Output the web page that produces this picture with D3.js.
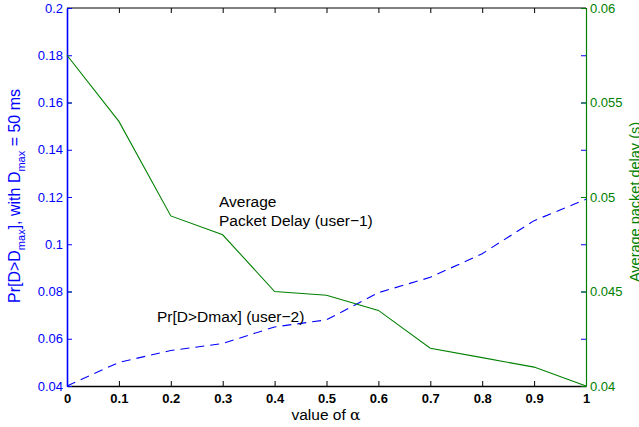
<!DOCTYPE html>
<html>
<head>
<meta charset="utf-8">
<script src="https://cdn.jsdelivr.net/npm/d3@7/dist/d3.min.js"></script>
<style>
  body { margin: 0; background: #fff; }
  svg { display: block; font-family: "Liberation Sans", Arial, sans-serif; }
</style>
</head>
<body>
<svg width="639" height="427"></svg>
<script>
// data
var alphaValues = [0, 0.1, 0.2, 0.3, 0.4, 0.5, 0.6, 0.7, 0.8, 0.9, 1];
var delayUser1 = [0.0575, 0.0540, 0.0490, 0.0480, 0.0450, 0.0448, 0.0440, 0.0420, 0.0415, 0.0410, 0.0400];
var probUser2 = [0.040, 0.050, 0.055, 0.058, 0.065, 0.068, 0.0795, 0.086, 0.096, 0.110, 0.119];
var xTicks = [0, 0.1, 0.2, 0.3, 0.4, 0.5, 0.6, 0.7, 0.8, 0.9, 1];
var leftTicks = [0.04, 0.06, 0.08, 0.1, 0.12, 0.14, 0.16, 0.18, 0.2];
var rightTicks = [0.04, 0.045, 0.05, 0.055, 0.06];

var blue = "#0000ff", green = "#008000";
var pLeft = 67, pRight = 586, pTop = 8, pBottom = 386;

var svg = d3.select("svg");

var xScale = d3.scaleLinear().domain([0, 1]).range([pLeft, pRight]);
var yLeft = d3.scaleLinear().domain([0.04, 0.2]).range([pBottom, pTop]);
var yRight = d3.scaleLinear().domain([0.04, 0.06]).range([pBottom, pTop]);

// top border
svg.append("line")
    .attr("x1", pLeft).attr("x2", pRight)
    .attr("y1", pTop).attr("y2", pTop)
    .attr("stroke", "#000").attr("stroke-width", 1);

// x axis bottom, ticks pointing inward
var xAxis = svg.append("g")
    .attr("transform", "translate(0," + pBottom + ")")
    .call(d3.axisBottom(xScale).tickValues(xTicks).tickSize(-5).tickSizeOuter(0).tickPadding(8)
        .tickFormat(function(d) { return d3.format("")(d); }));
xAxis.select(".domain").attr("stroke", "#000").attr("stroke-width", 1.6);
xAxis.selectAll(".tick line").attr("stroke", "#000");
xAxis.selectAll("text").attr("font-size", 13).attr("font-weight", "bold").attr("fill", "#000");

// top ticks
svg.append("g")
    .attr("transform", "translate(0," + pTop + ")")
    .call(d3.axisTop(xScale).tickValues(xTicks).tickSize(-5).tickFormat(""))
    .select(".domain").remove();

// green ticks on left side (hidden below blue)
svg.append("g")
    .attr("transform", "translate(" + pLeft + ",0)")
    .call(d3.axisLeft(yRight).tickValues(rightTicks).tickSize(-5).tickFormat(""))
    .call(function(g) { g.select(".domain").remove(); g.selectAll("line").attr("stroke", green); });

// blue ticks on right side
svg.append("g")
    .attr("transform", "translate(" + pRight + ",0)")
    .call(d3.axisRight(yLeft).tickValues(leftTicks).tickSize(-5).tickFormat(""))
    .call(function(g) { g.select(".domain").remove(); g.selectAll("line").attr("stroke", blue); });

// left axis
var yAxisL = svg.append("g")
    .attr("transform", "translate(" + pLeft + ",0)")
    .call(d3.axisLeft(yLeft).tickValues(leftTicks).tickSize(-5).tickSizeOuter(0).tickPadding(4)
        .tickFormat(function(d) { return d3.format("")(+d.toFixed(2)); }));
yAxisL.select(".domain").attr("stroke", blue).attr("stroke-width", 1.6);
yAxisL.selectAll(".tick line").attr("stroke", blue);
yAxisL.selectAll("text").attr("font-size", 13).attr("fill", blue);

// right axis
var yAxisR = svg.append("g")
    .attr("transform", "translate(" + pRight + ",0)")
    .call(d3.axisRight(yRight).tickValues(rightTicks).tickSize(-5).tickSizeOuter(0).tickPadding(4)
        .tickFormat(function(d) { return d3.format("")(+d.toFixed(3)); }));
yAxisR.select(".domain").attr("stroke", green).attr("stroke-width", 1.2);
yAxisR.selectAll(".tick line").attr("stroke", green);
yAxisR.selectAll("text").attr("font-size", 13).attr("fill", green);

// lines
var delayLine = d3.line()
    .x(function(d, i) { return xScale(alphaValues[i]); })
    .y(function(d) { return yRight(d); });
var probLine = d3.line()
    .x(function(d, i) { return xScale(alphaValues[i]); })
    .y(function(d) { return yLeft(d); });

svg.append("path")
    .datum(probUser2)
    .attr("d", probLine)
    .attr("fill", "none")
    .attr("stroke", blue)
    .attr("stroke-width", 1.1)
    .attr("stroke-dasharray", "9,6");

svg.append("path")
    .datum(delayUser1)
    .attr("d", delayLine)
    .attr("fill", "none")
    .attr("stroke", green)
    .attr("stroke-width", 1.1);

// annotations
svg.append("text").attr("x", 219).attr("y", 207).attr("font-size", 15.5).text("Average");
svg.append("text").attr("x", 219).attr("y", 226).attr("font-size", 15.5).text("Packet Delay (user\u22121)");
svg.append("text").attr("x", 157).attr("y", 322).attr("font-size", 15.5).text("Pr[D>Dmax] (user\u22122)");

// x label
var xl = svg.append("text")
    .attr("x", 326).attr("y", 420)
    .attr("text-anchor", "middle")
    .attr("font-size", 15.5);
xl.append("tspan").text("value of ");
xl.append("tspan").attr("font-family", "DejaVu Serif, serif").text("\u03b1");

// left y label
var yl = svg.append("text")
    .attr("transform", "translate(19.5,196) rotate(-90)")
    .attr("text-anchor", "middle")
    .attr("font-size", 16)
    .attr("fill", blue);
yl.append("tspan").text("Pr[D>D");
yl.append("tspan").attr("font-size", 11).attr("dy", 5).text("max");
yl.append("tspan").attr("dy", -5).text("], with D");
yl.append("tspan").attr("font-size", 11).attr("dy", 5).text("max");
yl.append("tspan").attr("dy", -5).text(" = 50 ms");

// right y label
svg.append("text")
    .attr("transform", "translate(640,202) rotate(-90)")
    .attr("text-anchor", "middle")
    .attr("font-size", 14.5)
    .attr("fill", green)
    .text("Average packet delay (s)");
</script>
</body>
</html>
